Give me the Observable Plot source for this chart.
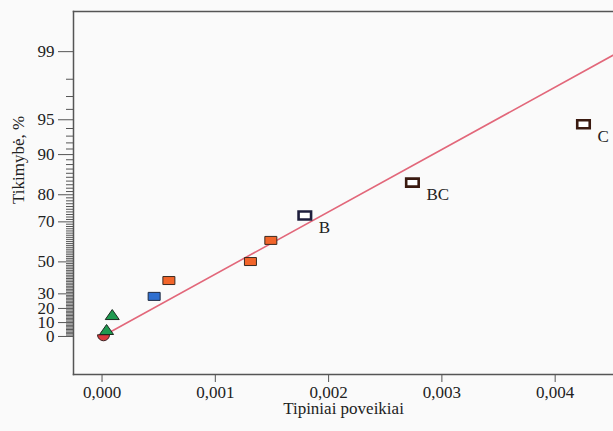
<!DOCTYPE html>
<html>
<head>
<meta charset="utf-8">
<script src="https://cdn.jsdelivr.net/npm/d3@7"></script>
<script src="https://cdn.jsdelivr.net/npm/@observablehq/plot@0.6"></script>
<style>
  body { margin: 0; background: #ffffff; }
  #chart svg { display: block; }
</style>
</head>
<body>
<div id="chart"></div>
<script>
// ---- data ----
const effects       = [0.000013, 0.00004, 0.00009, 0.00046, 0.00059, 0.00131, 0.00149, 0.00179, 0.00274, 0.00425];
const probabilities = [0.5, 4.3, 15.0, 28.3, 38.7, 50.2, 61.5, 72.6, 83.6, 94.5];
const kinds         = ["half", "tri", "tri", "blue", "orange", "orange", "orange", "openB", "open", "open"];
const labels        = ["", "", "", "", "", "", "", "B", "BC", "C"];

const lineEffect = [0, 0.00451];
const lineProb   = [0, 98.9];

const xTicks = [0, 0.001, 0.002, 0.003, 0.004];
const majorPercents = [0, 10, 20, 30, 50, 70, 80, 90, 95, 99];
const minorPercents = d3.range(1, 99).filter(p => !majorPercents.includes(p));

// ---- half-normal probability transform ----
function invNorm(p) {
  const a = [-3.969683028665376e+01, 2.209460984245205e+02, -2.759285104469687e+02, 1.383577518672690e+02, -3.066479806614716e+01, 2.506628277459239e+00];
  const b = [-5.447609879822406e+01, 1.615858368580409e+02, -1.556989798598866e+02, 6.680131188771972e+01, -1.328068155288572e+01];
  const c = [-7.784894002430293e-03, -3.223964580411365e-01, -2.400758277161838e+00, -2.549732539343734e+00, 4.374664141464968e+00, 2.938163982698783e+00];
  const d = [7.784695709041462e-03, 3.224671290700398e-01, 2.445134137142996e+00, 3.754408661907416e+00];
  const pl = 0.02425, ph = 1 - pl;
  let q, r;
  if (p < pl) { q = Math.sqrt(-2 * Math.log(p)); return (((((c[0]*q+c[1])*q+c[2])*q+c[3])*q+c[4])*q+c[5]) / ((((d[0]*q+d[1])*q+d[2])*q+d[3])*q+1); }
  if (p <= ph) { q = p - 0.5; r = q*q; return (((((a[0]*r+a[1])*r+a[2])*r+a[3])*r+a[4])*r+a[5])*q / (((((b[0]*r+b[1])*r+b[2])*r+b[3])*r+b[4])*r+1); }
  q = Math.sqrt(-2 * Math.log(1 - p)); return -(((((c[0]*q+c[1])*q+c[2])*q+c[3])*q+c[4])*q+c[5]) / ((((d[0]*q+d[1])*q+d[2])*q+d[3])*q+1);
}
const hn = pct => pct <= 0 ? 0 : invNorm(0.5 + pct / 200);

const points = effects.map((e, i) => ({effect: e, q: hn(probabilities[i]), kind: kinds[i], label: labels[i]}));
const line = lineEffect.map((e, i) => ({effect: e, q: hn(lineProb[i])}));

// ---- custom symbols ----
const rectSym = (w, h) => ({draw(ctx) { ctx.moveTo(-w/2, -h/2); ctx.lineTo(w/2, -h/2); ctx.lineTo(w/2, h/2); ctx.lineTo(-w/2, h/2); ctx.closePath(); }});
const triSym = {draw(ctx) { ctx.moveTo(0, -6); ctx.lineTo(7, 4); ctx.lineTo(-7, 4); ctx.closePath(); }};
const halfSym = {draw(ctx) { ctx.moveTo(6, -1); ctx.arc(0, -1, 6, 0, Math.PI, false); ctx.closePath(); }};

const of = k => points.filter(d => d.kind === k);

const chart = Plot.plot({
  width: 613,
  height: 431,
  marginLeft: 73,
  marginTop: 11,
  marginRight: 0,
  marginBottom: 57,
  style: {fontFamily: "'Liberation Serif', 'Times New Roman', serif", fontSize: "17px", color: "#222", background: "#fafafa"},
  x: {domain: [-0.000252, 0.004515]},
  y: {domain: [-0.344, 2.939]},
  marks: [
    Plot.line(line, {x: "effect", y: "q", stroke: "#e2677a", strokeWidth: 1.6, clip: true}),
    Plot.dot(of("half"), {x: "effect", y: "q", symbol: halfSym, r: 6, fill: "#dc3a3e", stroke: "#3a2020", strokeWidth: 1}),
    Plot.dot(of("tri"), {x: "effect", y: "q", symbol: triSym, r: 6, fill: "#1f9a50", stroke: "#1c2a20", strokeWidth: 1}),
    Plot.dot(of("blue"), {x: "effect", y: "q", symbol: rectSym(12, 8), r: 6, fill: "#2e6fd0", stroke: "#1e2a40", strokeWidth: 1}),
    Plot.dot(of("orange"), {x: "effect", y: "q", symbol: rectSym(12, 8), r: 6, fill: "#f2652a", stroke: "#3a2a20", strokeWidth: 1}),
    Plot.dot(of("openB"), {x: "effect", y: "q", symbol: rectSym(12.5, 8), r: 6, fill: "#ffffff", stroke: "#1e1e3c", strokeWidth: 2.6}),
    Plot.dot(of("open"), {x: "effect", y: "q", symbol: rectSym(12.5, 8), r: 6, fill: "#ffffff", stroke: "#3a1a10", strokeWidth: 2.6}),
    Plot.text(points.filter(d => d.label), {x: "effect", y: "q", text: "label", dx: 14, dy: 12, textAnchor: "start", fontSize: 17, fill: "#222"}),
    Plot.frame({anchor: "left", stroke: "#555", strokeWidth: 1.5}),
    Plot.frame({anchor: "top", stroke: "#555", strokeWidth: 1.5}),
    Plot.frame({anchor: "bottom", stroke: "#555", strokeWidth: 1.5}),
    Plot.axisX({ticks: xTicks, tickFormat: d => d.toFixed(3).replace(".", ","), tickSize: 8, tickPadding: 3, stroke: "#555", fontSize: 17, label: null}),
    Plot.axisY({ticks: majorPercents.map(hn), tickFormat: d => String(majorPercents.find(p => Math.abs(hn(p) - d) < 1e-9)), tickSize: 15, tickPadding: 4, stroke: "#555", fontSize: 17, label: null}),
    Plot.axisY({ticks: minorPercents.map(hn), tickFormat: null, text: null, tickSize: 7, stroke: "#555", strokeWidth: 1, label: null}),
    Plot.text(["Tipiniai poveikiai"], {frameAnchor: "bottom", dy: 39, fontSize: 17, fill: "#222"}),
    Plot.text(["Tikimybė, %"], {frameAnchor: "left", dx: -55, dy: 11, rotate: -90, fontSize: 17, fill: "#222"})
  ]
});
document.getElementById("chart").appendChild(chart);
</script>
</body>
</html>
